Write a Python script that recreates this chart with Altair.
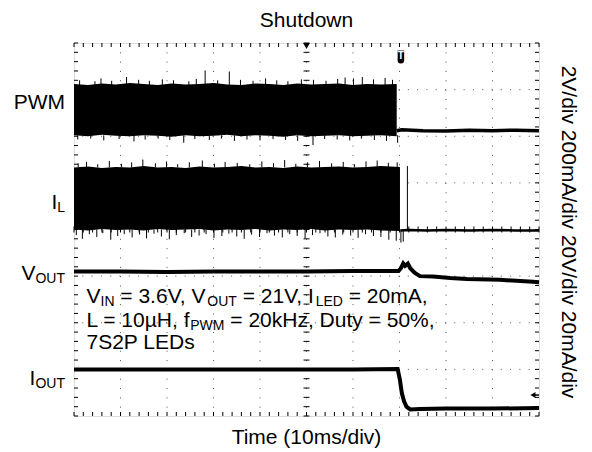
import altair as alt
import pandas as pd

W, H = 465, 373          # plot area (10 x 8 divisions)
X0, Y0 = 74, 43          # page position of plot origin
FONT = "Liberation Sans"
MAIN, SUB = 21, 14

# ---------------- data (time in ms, level in divisions: 0 = bottom, 8 = top) ----------------
grid_t = [10, 20, 30, 40, 50, 60, 70, 80, 90]
grid_v = [1, 2, 3, 4, 5, 6, 7]

# PWM band before shutdown
pwm_band_t   = [0, 3, 6, 9, 12, 15, 18, 21, 24, 27, 30, 33, 36, 39, 42, 45, 48, 51, 54, 57, 60, 63, 66, 69.4]
pwm_band_top = [7.12, 7.10, 7.13, 7.11, 7.14, 7.12, 7.10, 7.13, 7.11, 7.12, 7.14, 7.11, 7.10, 7.13, 7.12, 7.10, 7.13, 7.11, 7.12, 7.13, 7.10, 7.12, 7.11, 7.12]
pwm_band_bot = [6.02, 6.00, 6.03, 6.01, 6.00, 6.02, 6.01, 5.99, 6.02, 6.00, 6.01, 6.03, 6.00, 6.02, 6.01, 5.99, 6.02, 6.00, 6.01, 6.02, 6.00, 6.01, 6.02, 6.00]
pwm_up_t = [1.2, 4.5, 5.8, 8.1, 11.3, 13.9, 16.2, 19.0, 21.4, 24.7, 26.3, 28.2, 30.9, 33.4, 35.8, 38.5, 41.2, 43.6, 46.0, 48.9, 51.5, 54.2, 56.7, 58.3, 60.1, 62.0, 64.4, 66.9, 68.5]
pwm_up_v = [7.20, 7.18, 7.24, 7.19, 7.27, 7.21, 7.19, 7.22, 7.20, 7.18, 7.23, 7.41, 7.20, 7.39, 7.21, 7.19, 7.24, 7.20, 7.18, 7.22, 7.21, 7.19, 7.23, 7.26, 7.24, 7.27, 7.22, 7.25, 7.21]
pwm_dn_t = [0.8, 3.6, 6.4, 9.7, 12.9, 15.3, 18.1, 20.6, 23.6, 26.0, 29.1, 31.7, 34.5, 37.2, 40.0, 42.8, 45.5, 48.1, 51.4, 53.9, 56.6, 59.3, 61.8, 64.6, 67.2, 69.6]
pwm_dn_v = [5.93, 5.95, 5.91, 5.94, 5.89, 5.93, 5.95, 5.92, 5.86, 5.94, 5.92, 5.95, 5.90, 5.93, 5.91, 5.94, 5.92, 5.90, 5.81, 5.94, 5.93, 5.91, 5.95, 5.92, 5.90, 5.86]
# PWM after shutdown
pwm_after_t = [69.4, 70.5, 75, 80, 85, 90, 95, 100]
pwm_after_v = [6.12, 6.14, 6.12, 6.11, 6.13, 6.12, 6.13, 6.12]

# Inductor current band before shutdown
il_band_t   = [0, 3, 6, 9, 12, 15, 18, 21, 24, 27, 30, 33, 36, 39, 42, 45, 48, 51, 54, 57, 60, 63, 66, 70.1]
il_band_top = [5.33, 5.35, 5.32, 5.34, 5.33, 5.36, 5.33, 5.34, 5.32, 5.35, 5.33, 5.34, 5.36, 5.33, 5.34, 5.32, 5.35, 5.33, 5.34, 5.35, 5.33, 5.34, 5.36, 5.34]
il_band_bot = [4.00, 3.98, 4.01, 3.99, 4.00, 3.98, 4.01, 3.99, 4.00, 4.01, 3.98, 4.00, 3.99, 4.01, 3.98, 4.00, 3.99, 4.01, 3.98, 4.00, 3.99, 4.00, 3.98, 3.97]
il_up_t = [0.9, 2.7, 5.1, 7.6, 10.2, 12.4, 14.8, 17.5, 19.9, 22.3, 24.8, 27.6, 30.2, 32.5, 35.1, 37.8, 40.4, 42.9, 45.3, 47.7, 50.2, 52.8, 55.4, 57.9, 60.3, 62.8, 65.2, 67.6, 69.5]
il_up_v = [5.42, 5.45, 5.40, 5.47, 5.41, 5.44, 5.50, 5.42, 5.46, 5.40, 5.44, 5.48, 5.41, 5.45, 5.43, 5.40, 5.46, 5.42, 5.49, 5.41, 5.44, 5.47, 5.42, 5.45, 5.40, 5.46, 5.48, 5.43, 5.44]
il_dn_t = [0.5, 1.8, 3.3, 4.9, 6.2, 7.9, 9.4, 10.8, 12.5, 14.1, 15.6, 17.2, 18.8, 20.5, 22.0, 23.7, 25.3, 26.9, 28.4, 30.1, 31.8, 33.3, 35.0, 36.6, 38.2, 39.9, 41.5, 43.1, 44.8, 46.4, 48.0, 49.7, 51.3, 52.9, 54.6, 56.2, 57.8, 59.5, 61.1, 62.7, 64.4, 66.0, 67.7, 69.3, 70.3, 70.8]
il_dn_v = [3.88, 3.80, 3.90, 3.84, 3.92, 3.78, 3.86, 3.90, 3.83, 3.89, 3.81, 3.91, 3.85, 3.79, 3.88, 3.92, 3.84, 3.87, 3.90, 3.82, 3.86, 3.91, 3.85, 3.80, 3.89, 3.84, 3.92, 3.87, 3.83, 3.90, 3.86, 3.81, 3.88, 3.92, 3.85, 3.83, 3.89, 3.87, 3.82, 3.90, 3.86, 3.84, 3.78, 3.76, 3.72, 3.74]
il_spike_t, il_spike_a, il_spike_b = [71.7], [3.97], [5.36]
il_after_t = [70.2, 72, 76, 80, 85, 90, 95, 100]
il_after_v = [3.98, 3.99, 3.98, 3.99, 3.98, 3.99, 3.98, 3.98]

# Output voltage
vout_t = [0, 10, 20, 30, 40, 50, 60, 69.8, 70.3, 70.8, 71.2, 71.8, 72.3, 73.3, 74.4, 77.2, 80.9, 84.5, 91.6, 98.7, 100]
vout_v = [3.10, 3.10, 3.09, 3.10, 3.10, 3.10, 3.11, 3.11, 3.17, 3.27, 3.22, 3.27, 3.17, 3.07, 3.00, 2.99, 2.96, 2.94, 2.92, 2.88, 2.87]

# Output current
iout_t = [0, 20, 40, 60, 69.6, 70.1, 70.5, 71.0, 71.5, 72.3, 74.4, 80, 90, 100]
iout_v = [1.00, 1.00, 1.00, 1.00, 1.01, 0.77, 0.49, 0.31, 0.20, 0.14, 0.15, 0.16, 0.16, 0.17]

trig_pos_t = [50]       # horizontal trigger position marker
trig_t_t = [70.3]       # "T" trigger marker
trig_lvl_t, trig_lvl_v = [98.7], [0.45]

title_txt = "Shutdown"
xtitle_txt = "Time (10ms/div)"
right_txt = "2V/div 200mA/div 20V/div 20mA/div"
ch_labels = [[("PWM", 0)], [("I", 0), ("L", 1)], [("V", 0), ("OUT", 1)], [("I", 0), ("OUT", 1)]]
ch_base = [109, 209, 280, 385]
note_lines = [
    [("V", 0), ("IN", 1), (" = 3.6V, V", 0), ("OUT", 1), (" = 21V, I", 0), ("LED", 1), (" = 20mA,", 0)],
    [("L = 10µH, f", 0), ("PWM", 1), (" = 20kHz, Duty = 50%,", 0)],
    [("7S2P LEDs", 0)],
]
note_base = [303, 327, 349]

# ---------------- helpers ----------------
AW = {' ': 278, ',': 278, '.': 278, '=': 584, '%': 889, '/': 278, '(': 333, ')': 333, 'µ': 576,
      'A': 667, 'D': 722, 'E': 667, 'H': 722, 'I': 278, 'L': 556, 'M': 833, 'N': 722, 'O': 778,
      'P': 667, 'S': 667, 'T': 611, 'U': 722, 'V': 667, 'W': 944,
      'a': 556, 'd': 556, 'e': 556, 'f': 278, 'h': 556, 'i': 222, 'k': 500, 'l': 222, 'm': 833,
      'n': 556, 'o': 556, 's': 500, 't': 278, 'u': 556, 'v': 500, 'w': 722, 'y': 500, 'z': 500}


def tw(s, size):
    return sum(AW.get(c, 556) for c in s) * size / 1000.0


def rich(segs, x, base, align="left"):
    sizes = [SUB if sub else MAIN for _, sub in segs]
    widths = [tw(t, s) for (t, _), s in zip(segs, sizes)]
    if align == "right":
        x -= sum(widths)
    rows = []
    for (t, sub), s, w in zip(segs, sizes, widths):
        lead = len(t) - len(t.lstrip(" "))
        rows.append(dict(px=x + tw(" " * lead, s) - X0, py=base + (3 if sub else 0) - Y0,
                         txt=t.lstrip(" "), fs=s))
        x += w
    return rows


xs = alt.Scale(domain=[0, 100], nice=False, zero=False)
ys = alt.Scale(domain=[0, 8], nice=False, zero=False)


def X(f):
    return alt.X(f, type="quantitative", scale=xs, axis=None)


def Y(f):
    return alt.Y(f, type="quantitative", scale=ys, axis=None)


def Y2(f):
    return alt.Y2(f)


minor_t = [i * 2 for i in range(51)]
minor_v = [i * 0.2 for i in range(41)]
df_mt = pd.DataFrame({"t": minor_t})
df_mv = pd.DataFrame({"v": minor_v})

layers = []
# grid
layers.append(alt.Chart(pd.DataFrame({"t": grid_t})).mark_rule(color="#555", strokeWidth=1, strokeDash=[1, 8.325]).encode(x=X("t")))
layers.append(alt.Chart(pd.DataFrame({"v": grid_v})).mark_rule(color="#555", strokeWidth=1, strokeDash=[1, 8.3]).encode(y=Y("v")))
# border and centre ticks
layers.append(alt.Chart(df_mt).mark_rule(color="black").encode(x=X("t"), y=alt.value(0), y2=alt.value(4)))
layers.append(alt.Chart(df_mt).mark_rule(color="black").encode(x=X("t"), y=alt.value(H - 4), y2=alt.value(H)))
layers.append(alt.Chart(df_mt).mark_rule(color="black").encode(x=X("t"), y=alt.value(H / 2 - 3), y2=alt.value(H / 2 + 3)))
layers.append(alt.Chart(df_mv).mark_rule(color="black").encode(y=Y("v"), x=alt.value(0), x2=alt.value(4)))
layers.append(alt.Chart(df_mv).mark_rule(color="black").encode(y=Y("v"), x=alt.value(W - 4), x2=alt.value(W)))
layers.append(alt.Chart(df_mv).mark_rule(color="black").encode(y=Y("v"), x=alt.value(W / 2 - 3), x2=alt.value(W / 2 + 3)))

# bands
for bt, btop, bbot in [(pwm_band_t, pwm_band_top, pwm_band_bot), (il_band_t, il_band_top, il_band_bot)]:
    layers.append(alt.Chart(pd.DataFrame({"t": bt, "top": btop, "bot": bbot})).mark_area(color="black", orient="vertical").encode(
        x=X("t"), y=Y("top"), y2=Y2("bot")))

# spikes
spk = []
for ts, vs, base in [(pwm_up_t, pwm_up_v, 7.10), (pwm_dn_t, pwm_dn_v, 6.02), (il_up_t, il_up_v, 5.33), (il_dn_t, il_dn_v, 4.0)]:
    for t, v in zip(ts, vs):
        spk.append(dict(t=t, a=base, b=v))
for t, a, b in zip(il_spike_t, il_spike_a, il_spike_b):
    spk.append(dict(t=t, a=a, b=b))
layers.append(alt.Chart(pd.DataFrame(spk)).mark_rule(color="black", strokeWidth=1).encode(x=X("t"), y=Y("a"), y2=Y2("b")))

# traces
for tt, vv, sw in [(pwm_after_t, pwm_after_v, 3.5), (il_after_t, il_after_v, 2.5), (vout_t, vout_v, 4), (iout_t, iout_v, 4)]:
    layers.append(alt.Chart(pd.DataFrame({"t": tt, "v": vv})).mark_line(color="black", strokeWidth=sw).encode(x=X("t"), y=Y("v")))

# markers
layers.append(alt.Chart(pd.DataFrame({"t": trig_pos_t})).mark_point(shape="triangle-down", filled=True, color="black", size=45, opacity=1).encode(x=X("t"), y=alt.value(3)))
layers.append(alt.Chart(pd.DataFrame({"t": trig_t_t})).mark_point(shape="M -0.5 -1 L 0.5 -1 L 0.5 0.5 Q 0.5 1 0 1 Q -0.5 1 -0.5 0.5 Z", filled=True, color="black", size=170, opacity=1).encode(x=X("t"), y=alt.value(14)))
layers.append(alt.Chart(pd.DataFrame({"t": trig_t_t})).mark_text(text="T", color="white", font=FONT, fontSize=10, fontWeight="bold").encode(x=X("t"), y=alt.value(13)))
layers.append(alt.Chart(pd.DataFrame({"t": trig_lvl_t, "v": trig_lvl_v})).mark_point(shape="triangle-left", filled=True, color="black", size=35, opacity=1).encode(x=X("t"), y=Y("v")))
layers.append(alt.Chart(pd.DataFrame({"t": trig_lvl_t, "v": trig_lvl_v})).mark_rule(color="black", strokeWidth=1.5).encode(x=X("t"), x2=alt.datum(100), y=Y("v")))

# texts
rows = []
for segs, b in zip(ch_labels, ch_base):
    rows += rich(segs, 65, b, align="right")
for segs, b in zip(note_lines, note_base):
    rows += rich(segs, 86.5, b)
rows.append(dict(px=W / 2, py=27 - Y0, txt=title_txt, fs=MAIN))
rows.append(dict(px=W / 2, py=444 - Y0, txt=xtitle_txt, fs=MAIN))
df_txt = pd.DataFrame(rows)
df_txt["al"] = ["center" if r["txt"] in (title_txt, xtitle_txt) else "left" for r in rows]

layers.append(alt.Chart(df_txt[df_txt.al == "left"]).mark_text(align="left", baseline="alphabetic", font=FONT, color="black").encode(
    x=alt.X("px:Q", scale=None, axis=None), y=alt.Y("py:Q", scale=None, axis=None), text="txt:N",
    size=alt.Size("fs:Q", scale=None, legend=None)))
layers.append(alt.Chart(df_txt[df_txt.al == "center"]).mark_text(align="center", baseline="alphabetic", font=FONT, color="black").encode(
    x=alt.X("px:Q", scale=None, axis=None), y=alt.Y("py:Q", scale=None, axis=None), text="txt:N",
    size=alt.Size("fs:Q", scale=None, legend=None)))
layers.append(alt.Chart(pd.DataFrame({"txt": [right_txt], "px": [568 - X0], "py": [232 - Y0]})).mark_text(
    align="center", baseline="middle", angle=90, font=FONT, fontSize=MAIN, color="black").encode(
    x=alt.X("px:Q", scale=None, axis=None), y=alt.Y("py:Q", scale=None, axis=None), text="txt:N"))

chart = alt.layer(*layers).resolve_scale(x="independent", y="independent", size="independent").properties(
    width=W, height=H, autosize="none",
    padding={"left": X0 - 8, "top": Y0 - 8, "right": 592 - 8 - X0 - W, "bottom": 452 - Y0 - H},
).configure_view(stroke="black", strokeWidth=1.5).configure(background="white")

chart.save("out.html", embed_options={"renderer": "svg", "actions": False})
